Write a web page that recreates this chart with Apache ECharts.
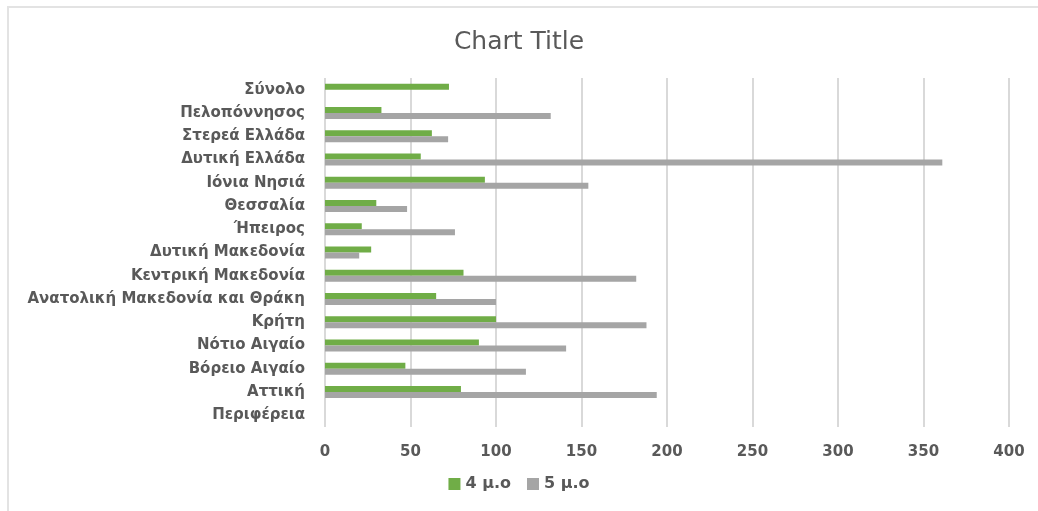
<!DOCTYPE html>
<html>
<head>
<meta charset="utf-8">
<script src="https://cdn.jsdelivr.net/npm/echarts@6/dist/echarts.min.js"></script>
<style>
  html, body { margin: 0; padding: 0; background: #ffffff; }
  #frame { position: absolute; left: 7px; top: 6px; width: 1031px; height: 505px;
           border-top: 2px solid #e3e3e3; border-left: 2px solid #e3e3e3; box-sizing: border-box; }
  #chart { position: absolute; left: 0; top: 0; width: 1038px; height: 511px; }
</style>
</head>
<body>
<div id="frame"></div>
<div id="chart"></div>
<script>
// categories listed bottom to top, as the axis draws them
const regions = [
  'Περιφέρεια', 'Αττική', 'Βόρειο Αιγαίο', 'Νότιο Αιγαίο', 'Κρήτη',
  'Ανατολική Μακεδονία και Θράκη', 'Κεντρική Μακεδονία', 'Δυτική Μακεδονία',
  'Ήπειρος', 'Θεσσαλία', 'Ιόνια Νησιά', 'Δυτική Ελλάδα', 'Στερεά Ελλάδα',
  'Πελοπόννησος', 'Σύνολο'
];
const seriesNames = ['4 μ.ο', '5 μ.ο'];
const values4 = [null, 79.5, 47, 90, 100, 65, 81, 27, 21.5, 30, 93.5, 56, 62.5, 33, 72.5];
const values5 = [null, 194, 117.5, 141, 188, 100, 182, 20, 76, 48, 154, 361, 72, 132, null];
const colors = ['#70ad47', '#a5a5a5'];

const textColor = '#595959';
const font = '"DejaVu Sans", Verdana, sans-serif';

const chart = echarts.init(document.getElementById('chart'));
chart.setOption({
  animation: false,
  backgroundColor: 'transparent',
  color: colors,
  title: {
    text: 'Chart Title',
    left: 'center',
    top: 25,
    textStyle: { color: textColor, fontSize: 25, fontWeight: 'normal', fontFamily: font }
  },
  legend: {
    bottom: 14,
    left: 'center',
    itemWidth: 12,
    itemHeight: 12,
    itemGap: 16,
    icon: 'rect',
    textStyle: { color: textColor, fontSize: 16, fontWeight: 'bold', fontFamily: font },
    data: seriesNames
  },
  grid: { left: 325, right: 29, top: 78, bottom: 84 },
  xAxis: {
    type: 'value',
    min: 0,
    max: 400,
    interval: 50,
    axisLine: { show: false },
    axisTick: { show: false },
    splitLine: { lineStyle: { color: '#d9d9d9', width: 2 } },
    axisLabel: { color: textColor, fontSize: 15, fontWeight: 'bold', fontFamily: font, margin: 18 }
  },
  yAxis: {
    type: 'category',
    data: regions,
    axisLine: { show: false },
    axisTick: { show: false },
    axisLabel: { color: textColor, fontSize: 15, fontWeight: 'bold', fontFamily: font, margin: 20 }
  },
  series: [
    { name: seriesNames[0], type: 'bar', data: values4, barWidth: 6, barGap: '0%' },
    { name: seriesNames[1], type: 'bar', data: values5, barWidth: 6, barGap: '0%' }
  ]
});
</script>
</body>
</html>
